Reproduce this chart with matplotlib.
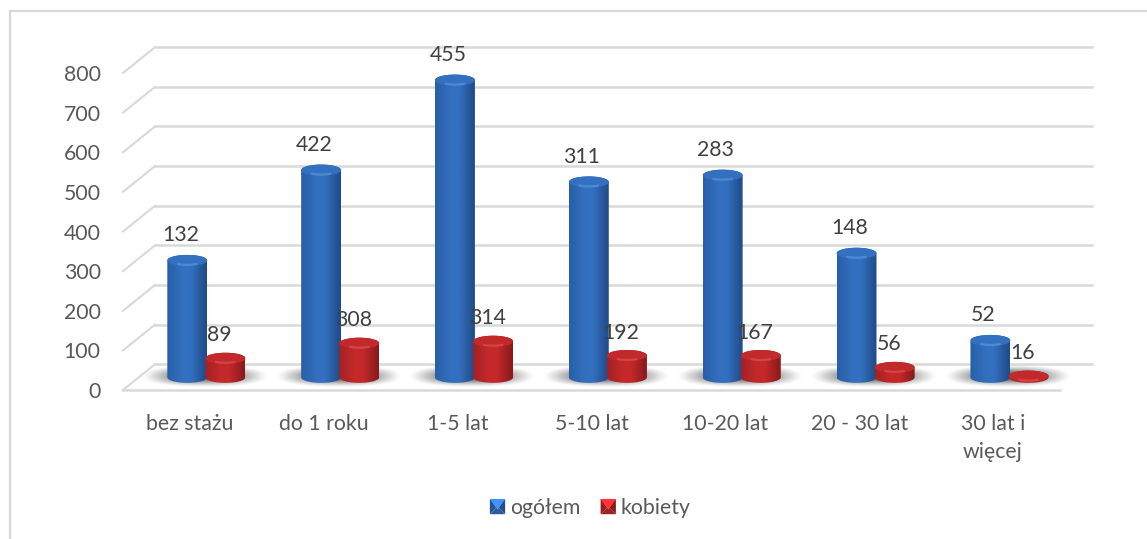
import numpy as np
from matplotlib import pyplot as plt
from matplotlib.legend_handler import HandlerBase
from matplotlib.lines import Line2D
from matplotlib.patches import Patch, PathPatch, Polygon
from matplotlib.path import Path

categories = ["bez stażu", "do 1 roku", "1-5 lat", "5-10 lat", "10-20 lat", "20 - 30 lat", "30 lat i\nwięcej"]
series_names = ["ogółem", "kobiety"]
# heights as drawn against the axis; the printed labels differ from them in the source
ogolem_height = [295, 523, 750, 493, 510, 313, 93]
kobiety_height = [48, 86, 91, 55, 55, 25, 3]
ogolem_label = ["132", "422", "455", "311", "283", "148", "52"]
kobiety_label = ["89", "308", "314", "192", "167", "56", "16"]
y_ticks = [0, 100, 200, 300, 400, 500, 600, 700, 800]

W, H = 1147, 539
GRID = "#d9d9d9"
DEPTH_X = 0.239
DEPTH_Y = 65
BASE = 32
HALF_W = 0.149
ELL_Y = 14
FS = 15.3

plt.rcParams["font.family"] = ["Lato", "DejaVu Sans"]

fig = plt.figure(figsize=(W / 100, H / 100), dpi=100)
ax = fig.add_axes([123 / W, 1 - 390 / H, (1060 - 123) / W, (390 - 73) / H])
ax.set_facecolor("none")
for s in ax.spines.values():
    s.set_visible(False)

# chart frame, only top and left show in the crop
fig.add_artist(Line2D([10 / W, 10 / W], [0, 1 - 10.5 / H], color=GRID, lw=1.6))
fig.add_artist(Line2D([10 / W, 1], [1 - 10.5 / H, 1 - 10.5 / H], color=GRID, lw=1.6))

# walls and floor
for v in y_ticks:
    ax.plot([-0.5, -0.5 + DEPTH_X], [v, v + DEPTH_Y], color=GRID, lw=1.5, clip_on=False, zorder=1)
    ax.plot([-0.5 + DEPTH_X, 6.5 + DEPTH_X], [v + DEPTH_Y, v + DEPTH_Y], color=GRID, lw=1.8, clip_on=False, zorder=1)
ax.plot([-0.5, 6.5], [0, 0], color=GRID, lw=1.8, clip_on=False, zorder=1)


def shadow(xc):
    ny, nx = 60, 200
    xx, yy = np.meshgrid(np.linspace(-1, 1, nx), np.linspace(-1, 1, ny))
    r = (np.abs(xx) ** 2.6 + np.abs(yy) ** 2.2) ** (1 / 2.4)
    img = np.zeros((ny, nx, 4))
    img[..., :3] = 0.42
    img[..., 3] = 0.9 * np.clip((1 - r) / 0.6, 0, 1) ** 1.2
    ax.imshow(img, extent=(xc - 0.47, xc + 0.47, BASE - 24, BASE + 30), aspect="auto",
              zorder=2, clip_on=False, interpolation="bilinear")


def cylinder(xc, h, edge_l, mid, edge_r, top_col, hi_col, z):
    top = BASE + h
    t = np.linspace(0, np.pi, 40)
    xs = np.r_[xc - HALF_W * np.cos(t), xc + HALF_W * np.cos(t)]
    ys = np.r_[top + ELL_Y * np.sin(t), BASE - ELL_Y * np.sin(t)]
    patch = PathPatch(Path(np.c_[xs, ys]), fc="none", ec="none", zorder=z)
    ax.add_patch(patch)

    # horizontal shading of the side
    pos = np.linspace(0, 1, 100)
    cols = np.array([edge_l, mid, mid, edge_r])
    grad = np.stack([np.interp(pos, [0, 0.4, 0.6, 1], cols[:, c]) for c in range(3)], axis=-1)
    im = ax.imshow(grad[None, :, :], extent=(xc - HALF_W, xc + HALF_W, BASE - ELL_Y, top + ELL_Y),
                   aspect="auto", zorder=z, interpolation="bilinear")
    im.set_clip_path(patch)

    # top cap with a soft lighter line along its front
    a = np.linspace(0, 2 * np.pi, 80)
    ax.fill(xc + HALF_W * np.cos(a), top + ELL_Y * np.sin(a), color=top_col, lw=0, zorder=z + 0.1, clip_on=False)
    b = np.linspace(1.3 * np.pi, 1.7 * np.pi, 20)
    ax.plot(xc + HALF_W * 0.8 * np.cos(b), top + ELL_Y * 0.8 * np.sin(b),
            color=hi_col, lw=1.6, alpha=0.45, zorder=z + 0.2, clip_on=False, solid_capstyle="round")


blue = [(0.16, 0.37, 0.65), (0.20, 0.44, 0.75), (0.12, 0.29, 0.53)]
red = [(0.64, 0.13, 0.14), (0.77, 0.16, 0.17), (0.53, 0.10, 0.11)]

for i in range(len(categories)):
    shadow(i + 0.11)
    cylinder(i + 0.265, kobiety_height[i], *red, (0.76, 0.16, 0.17), (0.90, 0.40, 0.40), 4)
    cylinder(i - 0.02, ogolem_height[i], *blue, (0.20, 0.44, 0.75), (0.45, 0.66, 0.92), 3)

for i in range(len(categories)):
    ax.annotate(ogolem_label[i], (i - 0.02, BASE + ogolem_height[i]), xytext=(-7, 25), textcoords="offset pixels",
                ha="center", va="center", fontsize=FS, color="#404040", zorder=6, annotation_clip=False)
    ax.annotate(kobiety_label[i], (i + 0.265, BASE + kobiety_height[i]), xytext=(-6, 23), textcoords="offset pixels",
                ha="center", va="center", fontsize=FS, color="#404040", zorder=6, annotation_clip=False)

ax.set_xlim(-0.5, 6.5)
ax.set_ylim(0, 800)
ax.set_yticks(y_ticks)
ax.set_xticks(range(len(categories)), categories)
ax.tick_params(axis="y", length=0, pad=16, labelsize=FS, labelcolor="#595959")
ax.tick_params(axis="x", length=0, pad=17, labelsize=FS, labelcolor="#595959")
for lab in ax.get_xticklabels():
    lab.set_linespacing(1.55)


class PyramidHandler(HandlerBase):
    # square marker made of four shaded triangles
    def create_artists(self, legend, orig, xd, yd, width, height, fontsize, trans):
        c = np.array(orig.get_facecolor()[:3])
        x0, y0 = xd + (width - 11) / 2, -yd + (height - 11) / 2
        x1, y1 = x0 + 11, y0 + 11
        cx, cy = (x0 + x1) / 2, (y0 + y1) / 2
        faces = [
            ([(x0, y0), (x0, y1), (cx, cy)], c * 0.75),
            ([(x1, y0), (x1, y1), (cx, cy)], c * 0.7),
            ([(x0, y0), (x1, y0), (cx, cy)], c * 0.8),
            ([(x0, y1), (x1, y1), (cx, y0 + 3)], np.clip(c * 1.3, 0, 1)),
        ]
        return [Polygon(p, closed=True, fc=col, ec="none", transform=trans) for p, col in faces]


handles = [Patch(color=blue[1], label=series_names[0]), Patch(color=red[1], label=series_names[1])]
fig.legend(handles=handles, handler_map={Patch: PyramidHandler()}, loc="center", bbox_to_anchor=(590 / W, 1 - 508 / H),
           ncol=2, frameon=False, fontsize=15.3, labelcolor="#595959", handlelength=0.75, handletextpad=0.2,
           columnspacing=0.95)

fig.savefig("out.png", dpi=100)
